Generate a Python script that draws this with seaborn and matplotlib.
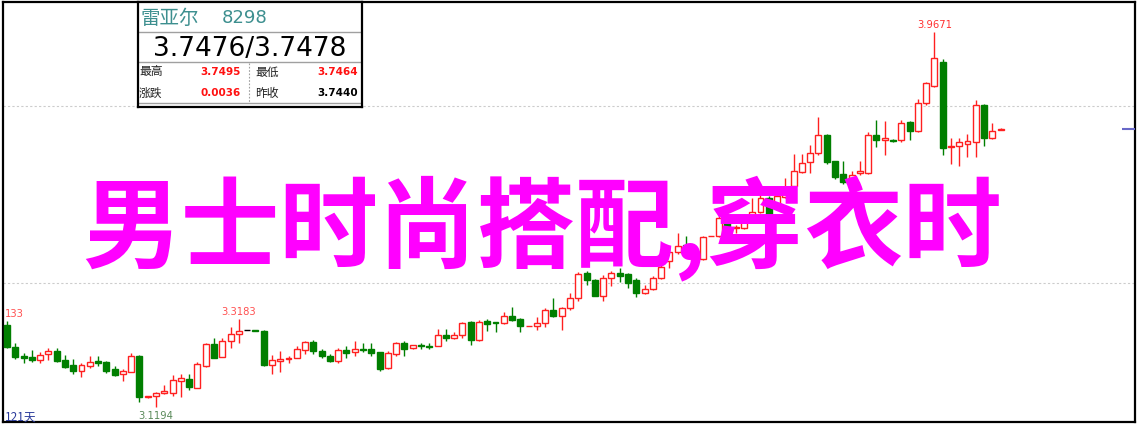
import numpy as np
import pandas as pd
import matplotlib.pyplot as plt
import seaborn as sns

# daily candles, 121 days
opens = [3.3055, 3.2558, 3.2348, 3.2318, 3.2264, 3.2386, 3.2461, 3.2257, 3.2138, 3.2016,
         3.2129, 3.2228, 3.2219, 3.2047, 3.1934, 3.1993, 3.2355, 3.1414, 3.1437, 3.1505,
         3.1518, 3.1783, 3.1828, 3.1631, 3.2129, 3.2619, 3.2332, 3.2694, 3.2838, 3.2929,
         3.2935, 3.2913, 3.2151, 3.2242, 3.2280, 3.2309, 3.2483, 3.2657, 3.2468, 3.2355,
         3.2228, 3.2483, 3.2431, 3.2506, 3.2506, 3.2431, 3.2070, 3.2393, 3.2642, 3.2522,
         3.2596, 3.2580, 3.2580, 3.2822, 3.2748, 3.2829, 3.3109, 3.2709, 3.3132, 3.3109,
         3.3094, 3.3259, 3.3184, 3.3019, 3.3019, 3.3087, 3.3387, 3.3259, 3.3426, 3.3659,
         3.4217, 3.4065, 3.3711, 3.4104, 3.4224, 3.4194, 3.4072, 3.3778, 3.3855, 3.4111,
         3.4495, 3.4698, 3.4856, 3.4743, 3.4540, 3.5052, 3.5052, 3.5369, 3.5234, 3.5234,
         3.5519, 3.5595, 3.5913, 3.5745, 3.5942, 3.6184, 3.6500, 3.6726, 3.6930, 3.7350,
         3.6749, 3.6462, 3.6365, 3.6478, 3.6485, 3.7343, 3.7223, 3.7230, 3.7230, 3.7637,
         3.7427, 3.8060, 3.8444, 3.9000, 3.7065, 3.7088, 3.7140, 3.7178, 3.8028, 3.7269,
         3.7464]
highs = [3.3133, 3.2648, 3.2416, 3.2477, 3.2431, 3.2529, 3.2529, 3.2370, 3.2280, 3.2190,
         3.2348, 3.2348, 3.2242, 3.2129, 3.2054, 3.2422, 3.2377, 3.1444, 3.1527, 3.1692,
         3.1925, 3.1934, 3.1941, 3.2219, 3.2635, 3.2748, 3.2748, 3.2996, 3.3183, 3.2929,
         3.2935, 3.2929, 3.2370, 3.2454, 3.2341, 3.2580, 3.2694, 3.2703, 3.2506, 3.2393,
         3.2522, 3.2580, 3.2694, 3.2642, 3.2642, 3.2445, 3.2461, 3.2657, 3.2687, 3.2603,
         3.2635, 3.2642, 3.2958, 3.2958, 3.2883, 3.3109, 3.3132, 3.3161, 3.3184, 3.3109,
         3.3335, 3.3448, 3.3207, 3.3019, 3.3222, 3.3433, 3.3652, 3.3462, 3.3772, 3.4239,
         3.4262, 3.4088, 3.4178, 3.4262, 3.4330, 3.4217, 3.4104, 3.3952, 3.4163, 3.4427,
         3.4811, 3.5128, 3.5060, 3.4834, 3.5067, 3.5052, 3.5512, 3.5444, 3.5308, 3.5557,
         3.5913, 3.5987, 3.5965, 3.6055, 3.6365, 3.6914, 3.6914, 3.7117, 3.7743, 3.7366,
         3.6763, 3.6763, 3.6537, 3.6763, 3.7404, 3.7682, 3.7653, 3.7253, 3.7682, 3.7653,
         3.8157, 3.8534, 3.9671, 3.9061, 3.7282, 3.7282, 3.7366, 3.8134, 3.8044, 3.7615,
         3.7495]
lows = [3.2529, 3.2280, 3.2183, 3.2219, 3.2196, 3.2264, 3.2219, 3.2083, 3.1941, 3.1880,
        3.2083, 3.2122, 3.1964, 3.1903, 3.1790, 3.1979, 3.1301, 3.1399, 3.1194, 3.1498,
        3.1437, 3.1414, 3.1579, 3.1618, 3.2092, 3.2296, 3.2318, 3.2529, 3.2635, 3.2929,
        3.2913, 3.2129, 3.1941, 3.1993, 3.2196, 3.2296, 3.2393, 3.2393, 3.2296, 3.2205,
        3.2190, 3.2303, 3.2355, 3.2431, 3.2355, 3.2016, 3.2065, 3.2355, 3.2355, 3.2506,
        3.2506, 3.2506, 3.2567, 3.2694, 3.2732, 3.2748, 3.2596, 3.2694, 3.2920, 3.2883,
        3.3071, 3.3146, 3.2897, 3.3019, 3.2935, 3.2996, 3.3236, 3.2935, 3.3387, 3.3598,
        3.3952, 3.3697, 3.3598, 3.3923, 3.4027, 3.3878, 3.3688, 3.3749, 3.3839, 3.4088,
        3.4330, 3.4653, 3.4721, 3.4495, 3.4524, 3.5052, 3.5037, 3.5218, 3.5128, 3.5218,
        3.5512, 3.5580, 3.5512, 3.5738, 3.5919, 3.6168, 3.6478, 3.6478, 3.6891, 3.6688,
        3.6349, 3.6236, 3.6236, 3.6439, 3.6462, 3.7079, 3.6891, 3.7192, 3.7192, 3.7237,
        3.7411, 3.8028, 3.8428, 3.6891, 3.6688, 3.6650, 3.6839, 3.6852, 3.7101, 3.7253,
        3.7464]
closes = [3.2544, 3.2332, 3.2309, 3.2264, 3.2370, 3.2454, 3.2242, 3.2106, 3.2016, 3.2138,
          3.2219, 3.2196, 3.2016, 3.1918, 3.2002, 3.2355, 3.1428, 3.1444, 3.1505, 3.1557,
          3.1805, 3.1851, 3.1640, 3.2167, 3.2608, 3.2303, 3.2694, 3.2838, 3.2913, 3.2929,
          3.2920, 3.2144, 3.2257, 3.2280, 3.2303, 3.2506, 3.2657, 3.2468, 3.2355, 3.2228,
          3.2490, 3.2416, 3.2506, 3.2483, 3.2409, 3.2054, 3.2416, 3.2635, 3.2506, 3.2590,
          3.2580, 3.2558, 3.2829, 3.2755, 3.2829, 3.3087, 3.2709, 3.3109, 3.3071, 3.3087,
          3.3245, 3.3168, 3.3019, 3.3021, 3.3087, 3.3387, 3.3259, 3.3433, 3.3659, 3.4201,
          3.4072, 3.3711, 3.4104, 3.4217, 3.4156, 3.3991, 3.3772, 3.3855, 3.4111, 3.4352,
          3.4698, 3.4827, 3.4766, 3.4540, 3.5030, 3.5054, 3.5460, 3.5279, 3.5256, 3.5369,
          3.5609, 3.5913, 3.5534, 3.5958, 3.6175, 3.6523, 3.6711, 3.6930, 3.7343, 3.6726,
          3.6401, 3.6274, 3.6446, 3.6523, 3.7343, 3.7237, 3.7269, 3.7201, 3.7615, 3.7427,
          3.8060, 3.8512, 3.9077, 3.7043, 3.7101, 3.7178, 3.7201, 3.8028, 3.7276, 3.7440,
          3.7476]

ask = 3.7478
name = "雷亚尔"
code = "8298"
overlay = "男士时尚搭配,穿衣时"

df = pd.DataFrame({"open": opens, "high": highs, "low": lows, "close": closes})
df["day"] = np.arange(len(df))

RED = "#ff2020"
GREEN = "#007f00"

def candle_color(r):
    if r.close > r.open:
        return RED
    if r.close < r.open:
        return GREEN
    return "black"

df["color"] = df.apply(candle_color, axis=1)
df["face"] = np.where(df["close"] > df["open"], "white", df["color"])

sns.set_style("white")
plt.rcParams["font.family"] = ["Noto Sans CJK SC", "DejaVu Sans"]

fig = plt.figure(figsize=(11.4, 4.27), dpi=100)
ax = fig.add_axes([3 / 1140, 4 / 427, 1132 / 1140, 420 / 427])

# wicks then bodies
ax.vlines(df["day"], df["low"], df["high"], colors=df["color"], linewidth=1.0, zorder=2)
ax.bar(df["day"], df["close"] - df["open"], bottom=df["open"], width=0.72,
       color=df["face"], edgecolor=df["color"], linewidth=1.0, zorder=3)

ax.set_xlim(-0.48, 136.23)
ax.set_ylim(3.0856, 4.0349)
ax.set_yticks([3.4, 3.8])
ax.set_xticks([])
ax.yaxis.grid(True, linestyle=(0, (2, 2)), color="#cccccc", linewidth=0.8)
ax.tick_params(left=False, labelleft=False)
for s in ax.spines.values():
    s.set_color("black")
    s.set_linewidth(1.6)

# current price marker at right edge
ax.hlines(ask, 134.6, 136.23, color="#6868c8", linewidth=1.5, zorder=3)

# high / low annotations
imax = int(np.argmax(highs))
imin = int(np.argmin(lows))
for i, col in [(28, "#ff5050"), (imax, "#ff3030")]:
    ax.annotate(f"{highs[i]:.4f}", (i, highs[i]), xytext=(0, 2), textcoords="offset points",
                ha="center", va="bottom", color=col, fontsize=7.2, family="DejaVu Sans")
# first candle's label runs off the left edge, only its tail shows
ax.annotate(f"{highs[0]:.4f}"[-3:], (0, highs[0]), xycoords=("axes fraction", "data"),
            xytext=(1, 2), textcoords="offset points", ha="left", va="bottom",
            color="#ff5050", fontsize=7.2, family="DejaVu Sans")
ax.annotate(f"{lows[imin]:.4f}", (imin, lows[imin]), xytext=(0, -2), textcoords="offset points",
            ha="center", va="top", color="#5a8a5a", fontsize=7.2, family="DejaVu Sans")

fig.text(5 / 1140, 1 - 417 / 427, f"{len(df)}天", color="#2b3b9b", fontsize=8.5, va="center")

# quote box
bx = fig.add_axes([138 / 1140, 1 - 108 / 427, 224 / 1140, 105 / 427])
bx.set_xlim(0, 224)
bx.set_ylim(105, 0)
bx.set_xticks([])
bx.set_yticks([])
bx.set_facecolor("white")
for s in bx.spines.values():
    s.set_color("black")
    s.set_linewidth(1.6)
for yy in [30, 60, 101]:
    bx.axhline(yy, color="#a0a0a0", linewidth=1.0)
bx.vlines(111, 61, 100, color="#a0a0a0", linewidth=0.8, linestyles=(0, (1.5, 1.5)))

bx.text(2, 15, name, color="#3d8f8f", fontsize=14, va="center")
bx.text(84, 15, code, color="#3d8f8f", fontsize=13, va="center", family="DejaVu Sans")
bx.text(112, 46, f"{closes[-1]:.4f}/{ask:.4f}", fontsize=19, ha="center", va="center",
        family="DejaVu Sans", color="black")
bx.text(1, 69, "最高", fontsize=8.5, va="center", color="#222222")
bx.text(1, 90, "涨跌", fontsize=8.5, va="center", color="#222222")
bx.text(117, 69, "最低", fontsize=8.5, va="center", color="#222222")
bx.text(117, 90, "昨收", fontsize=8.5, va="center", color="#222222")
bx.text(103, 69, f"{highs[-1]:.4f}", fontsize=7.5, ha="right", va="center",
        color="#ff1010", fontweight="bold", family="DejaVu Sans")
bx.text(219.5, 69, f"{lows[-1]:.4f}", fontsize=7.5, ha="right", va="center",
        color="#ff1010", fontweight="bold", family="DejaVu Sans")
bx.text(103, 90, f"{closes[-1] - closes[-2]:.4f}", fontsize=7.5, ha="right", va="center",
        color="#ff1010", fontweight="bold", family="DejaVu Sans")
bx.text(219.5, 90, f"{closes[-2]:.4f}", fontsize=7.5, ha="right", va="center",
        color="black", fontweight="bold", family="DejaVu Sans")

# big magenta caption over the chart
fig.text(82 / 1140, 1 - 260 / 427, overlay, fontsize=71, fontweight="bold", color="#ff00ff",
         va="baseline", ha="left", family=["Noto Sans CJK SC", "DejaVu Sans"], zorder=10)

fig.savefig("out.png", dpi=100)
